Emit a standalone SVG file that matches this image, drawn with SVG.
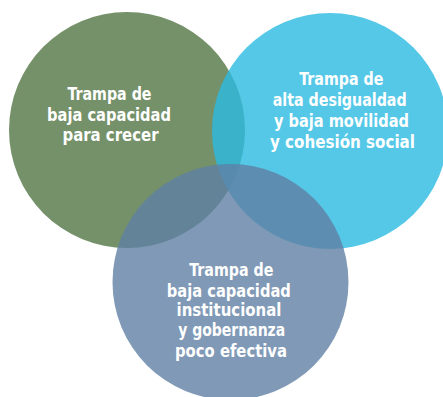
<svg xmlns="http://www.w3.org/2000/svg" width="443" height="397" viewBox="0 0 443 397">
<style>
.lbl{font-family:"Liberation Sans Narrow","DejaVu Sans Condensed","Liberation Sans",sans-serif;font-weight:bold;font-stretch:condensed;font-size:18.5px;fill:#ffffff;text-anchor:middle}
</style>
<rect x="0" y="0" width="443" height="397" fill="#ffffff"/>
<g id="node-crecer">
<circle cx="127" cy="130" r="118" fill="#75916A"/>
</g>
<g id="node-desigualdad">
<circle cx="330" cy="131" r="118" fill="#2BBAE2" fill-opacity="0.8"/>
</g>
<g id="node-institucional">
<circle cx="230.5" cy="282" r="118" fill="#5F80A4" fill-opacity="0.8"/>
</g>
<g id="connectors"></g>
<g id="labels">
<text class="lbl" x="109.5" y="100" textLength="84" lengthAdjust="spacingAndGlyphs">Trampa de</text>
<text class="lbl" x="109" y="120.5" textLength="124" lengthAdjust="spacingAndGlyphs">baja capacidad</text>
<text class="lbl" x="110.5" y="140.5" textLength="96" lengthAdjust="spacingAndGlyphs">para crecer</text>
<text class="lbl" x="341.3" y="85" textLength="84" lengthAdjust="spacingAndGlyphs">Trampa de</text>
<text class="lbl" x="339.7" y="106" textLength="134" lengthAdjust="spacingAndGlyphs">alta desigualdad</text>
<text class="lbl" x="341.5" y="127" textLength="135" lengthAdjust="spacingAndGlyphs">y baja movilidad</text>
<text class="lbl" x="342.5" y="148" textLength="145" lengthAdjust="spacingAndGlyphs">y cohesión social</text>
<text class="lbl" x="231.3" y="276" textLength="84" lengthAdjust="spacingAndGlyphs">Trampa de</text>
<text class="lbl" x="228.8" y="296.5" textLength="124" lengthAdjust="spacingAndGlyphs">baja capacidad</text>
<text class="lbl" x="229" y="316" textLength="105" lengthAdjust="spacingAndGlyphs">institucional</text>
<text class="lbl" x="231.7" y="336" textLength="107" lengthAdjust="spacingAndGlyphs">y gobernanza</text>
<text class="lbl" x="231" y="356.5" textLength="112" lengthAdjust="spacingAndGlyphs">poco efectiva</text>
</g>
</svg>
